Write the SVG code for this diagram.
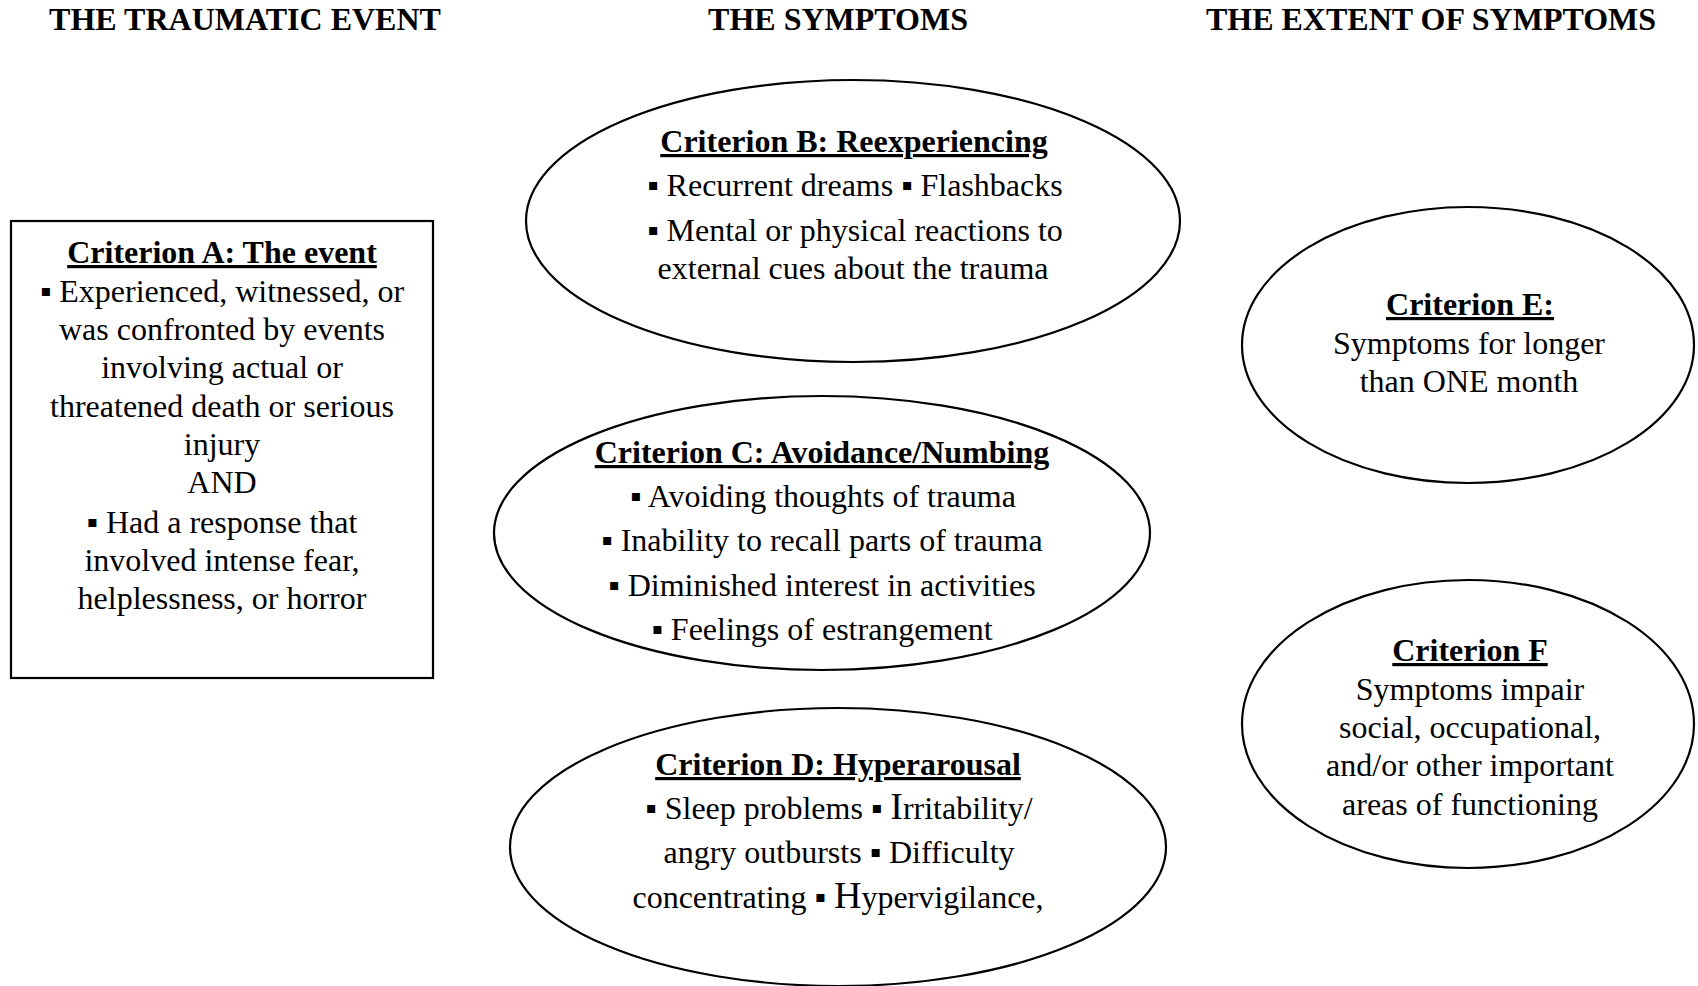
<svg xmlns="http://www.w3.org/2000/svg" width="1698" height="986" viewBox="0 0 1698 986">
<style>
  text { font-family: "Liberation Serif", "Times New Roman", serif; font-size: 32px; fill: #000; text-anchor: middle; }
  .hdr { font-weight: bold; font-size: 32px; }
  .ttl { font-weight: bold; text-decoration: underline; }
  .shape { fill: #fff; stroke: #000; stroke-width: 2.2; }
  .big { font-size: 38px; }
</style>
<rect width="1698" height="986" fill="#fff"/>
<g id="headers">
  <text class="hdr" x="245" y="30">THE TRAUMATIC EVENT</text>
  <text class="hdr" x="838" y="30">THE SYMPTOMS</text>
  <text class="hdr" x="1431" y="30">THE EXTENT OF SYMPTOMS</text>
</g>
<g id="connectors"></g>
<g id="criterionA">
  <rect class="shape" x="11" y="221" width="422" height="457"/>
  <text class="ttl" x="222" y="263">Criterion A: The event</text>
  <text x="222" y="302">▪ Experienced, witnessed, or</text>
  <text x="222" y="340">was confronted by events</text>
  <text x="222" y="378">involving actual or</text>
  <text x="222" y="417">threatened death or serious</text>
  <text x="222" y="455">injury</text>
  <text x="222" y="493">AND</text>
  <text x="222" y="533">▪ Had a response that</text>
  <text x="222" y="571">involved intense fear,</text>
  <text x="222" y="609">helplessness, or horror</text>
</g>
<g id="criterionB">
  <ellipse class="shape" cx="853" cy="221" rx="327" ry="141"/>
  <text class="ttl" x="854" y="152">Criterion B: Reexperiencing</text>
  <text x="855" y="196">▪ Recurrent dreams ▪ Flashbacks</text>
  <text x="855" y="241">▪ Mental or physical reactions to</text>
  <text x="853" y="279">external cues about the trauma</text>
</g>
<g id="criterionC">
  <ellipse class="shape" cx="822" cy="533" rx="328" ry="137"/>
  <text class="ttl" x="822" y="463">Criterion C: Avoidance/Numbing</text>
  <text x="823" y="507">▪ Avoiding thoughts of trauma</text>
  <text x="822" y="551">▪ Inability to recall parts of trauma</text>
  <text x="822" y="596">▪ Diminished interest in activities</text>
  <text x="822" y="640">▪ Feelings of estrangement</text>
</g>
<g id="criterionD">
  <ellipse class="shape" cx="838" cy="847" rx="328" ry="139"/>
  <text class="ttl" x="838" y="775">Criterion D: Hyperarousal</text>
  <text x="839" y="819">▪ Sleep problems ▪ <tspan class="big">I</tspan>rritability/</text>
  <text x="839" y="863">angry outbursts ▪ Difficulty</text>
  <text x="838" y="908">concentrating ▪ <tspan class="big">H</tspan>ypervigilance,</text>
</g>
<g id="criterionE">
  <ellipse class="shape" cx="1468" cy="345" rx="226" ry="138"/>
  <text class="ttl" x="1470" y="315">Criterion E:</text>
  <text x="1469" y="354">Symptoms for longer</text>
  <text x="1469" y="392">than ONE month</text>
</g>
<g id="criterionF">
  <ellipse class="shape" cx="1468" cy="724" rx="226" ry="144"/>
  <text class="ttl" x="1470" y="661">Criterion F</text>
  <text x="1470" y="700">Symptoms impair</text>
  <text x="1470" y="738">social, occupational,</text>
  <text x="1470" y="776">and/or other important</text>
  <text x="1470" y="815">areas of functioning</text>
</g>
</svg>
